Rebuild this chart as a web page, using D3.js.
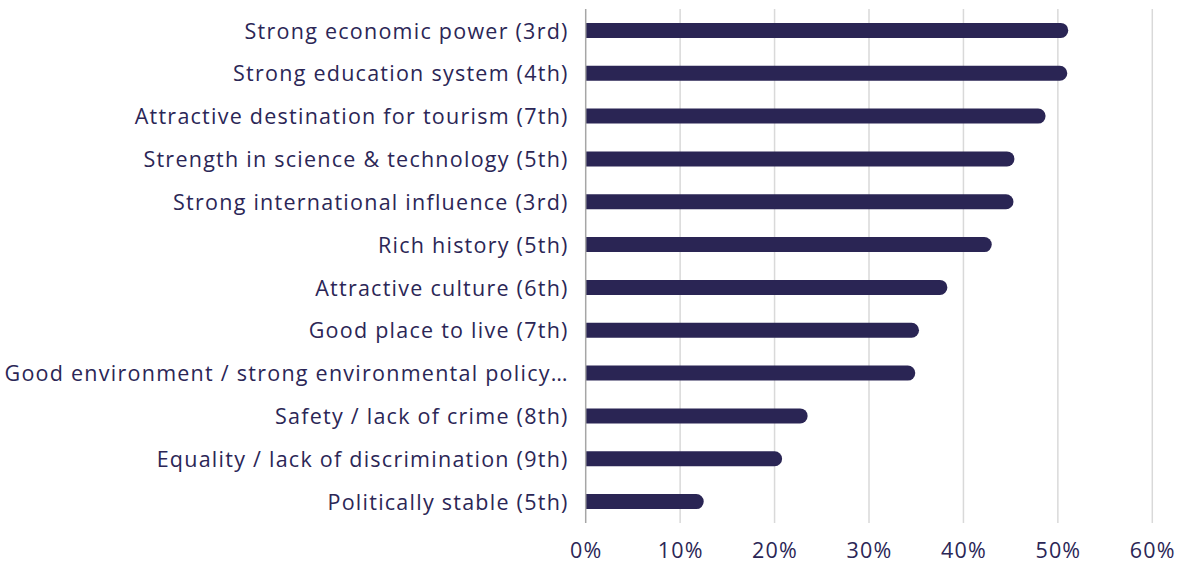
<!DOCTYPE html>
<html>
<head>
<meta charset="utf-8">
<script src="https://cdn.jsdelivr.net/npm/d3@7"></script>
<style>
  html, body { margin: 0; padding: 0; background: #fff; }
  svg text { font-family: "Open Sans", "Lato", sans-serif; fill: #2b2656; }
</style>
</head>
<body>
<div id="chart"></div>
<script>
let categories = [
    "Strong economic power (3rd)",
    "Strong education system (4th)",
    "Attractive destination for tourism (7th)",
    "Strength in science & technology (5th)",
    "Strong international influence (3rd)",
    "Rich history (5th)",
    "Attractive culture (6th)",
    "Good place to live (7th)",
    "Good environment / strong environmental policy…",
    "Safety / lack of crime (8th)",
    "Equality / lack of discrimination (9th)",
    "Politically stable (5th)"
];
let values = [0.511, 0.510, 0.487, 0.454, 0.453, 0.430, 0.383, 0.353, 0.349, 0.235, 0.208, 0.125];
let ticks = [0, 0.1, 0.2, 0.3, 0.4, 0.5, 0.6];

let width = 1189, height = 565;
let barColor = "#2a2554";

let svg = d3.select("#chart")
    .append("svg")
    .attr("width", width)
    .attr("height", height);

let xScale = d3.scaleLinear()
    .domain([0, 0.6])
    .range([585.7, 1152.3]);

let yScale = d3.scaleBand()
    .domain(categories)
    .range([9, 523])
    .paddingInner(0.65)
    .paddingOuter(0.325);

//gridlines
svg.append("g")
    .selectAll("line")
    .data(ticks.slice(1))
    .enter()
    .append("line")
    .attr("x1", d => xScale(d))
    .attr("x2", d => xScale(d))
    .attr("y1", 9)
    .attr("y2", 523)
    .attr("stroke", "#d9d9d9")
    .attr("stroke-width", 1.5);

//bars, square at the axis, round at the value end
let bh = yScale.bandwidth();
let r = bh / 2;
svg.append("g")
    .selectAll("path")
    .data(categories)
    .enter()
    .append("path")
    .attr("fill", barColor)
    .attr("d", function(d, i){
        let x0 = xScale(0), x1 = xScale(values[i]), y0 = yScale(d);
        return "M" + x0 + "," + y0 +
            "H" + (x1 - r) +
            "A" + r + "," + r + " 0 0 1 " + (x1 - r) + "," + (y0 + bh) +
            "H" + x0 + "Z";
    });

//zero axis line
svg.append("line")
    .attr("x1", xScale(0))
    .attr("x2", xScale(0))
    .attr("y1", 9)
    .attr("y2", 523)
    .attr("stroke", "#a6a6a6")
    .attr("stroke-width", 1.5);

//category labels
let yAxis = d3.axisLeft(yScale).tickSize(0).tickPadding(17);
svg.append("g")
    .attr("transform", "translate(" + xScale(0) + ",0)")
    .call(yAxis)
    .call(g => g.select(".domain").remove())
    .selectAll("text")
    .attr("font-size", 21.5)
    .attr("letter-spacing", 1.25)
    .attr("dy", "0.38em")
    .style("fill", "#2b2656");

//value axis
let xAxis = d3.axisBottom(xScale)
    .tickValues(ticks)
    .tickSize(0)
    .tickPadding(0)
    .tickFormat(d3.format(".0%"));
svg.append("g")
    .attr("transform", "translate(0,543)")
    .call(xAxis)
    .call(g => g.select(".domain").remove())
    .selectAll("text")
    .attr("font-size", 21.5)
    .attr("letter-spacing", 1.2)
    .style("fill", "#2b2656");
</script>
</body>
</html>
